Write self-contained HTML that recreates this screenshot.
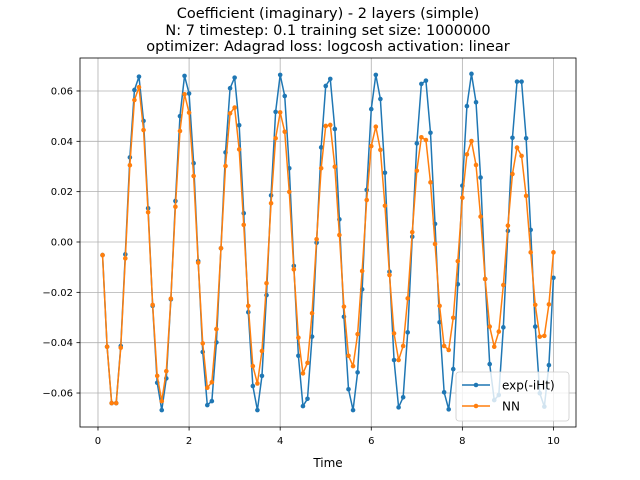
<!DOCTYPE html>
<html><head><meta charset="utf-8"><style>
body{margin:0;background:#fff;}
svg{display:block;font-family:"DejaVu Sans","Liberation Sans",sans-serif;}
</style></head><body>
<svg id="chart" width="640" height="480" viewBox="0 0 640 480" xmlns="http://www.w3.org/2000/svg">
<text x="328" y="18" text-anchor="middle" font-size="14.5">Coefficient (imaginary) - 2 layers (simple)</text>
<text x="328" y="35" text-anchor="middle" font-size="14.5">N: 7 timestep: 0.1 training set size: 1000000</text>
<text x="328" y="51" text-anchor="middle" font-size="14.5">optimizer: Adagrad loss: logcosh activation: linear</text>
<g id="grid"></g>
<g id="series"></g>
<rect x="80" y="58" width="496" height="369" fill="none" stroke="#000" stroke-width="0.8"/>
<g id="ticks"></g>
<text x="328" y="467" text-anchor="middle" font-size="12">Time</text>
<g>
<rect x="456" y="372" width="113" height="49" rx="3" fill="#fff" fill-opacity="0.8" stroke="#ccc" stroke-width="0.8"/>
<g>
<line x1="462" y1="385" x2="490" y2="385" stroke="#1f77b4" stroke-width="1.5"/><circle cx="476" cy="385" r="2.3" fill="#1f77b4"/>
<text x="502" y="389.5" font-size="12">exp(-iHt)</text></g>
<g>
<line x1="462" y1="406" x2="490" y2="406" stroke="#ff7f0e" stroke-width="1.5"/><circle cx="476" cy="406" r="2.3" fill="#ff7f0e"/>
<text x="502" y="410.5" font-size="12">NN</text></g>
</g>
</svg>
<script>
const times = [];
for (let i = 1; i <= 100; i++) times.push(i / 10);
const exactValues = [-0.0052,-0.0416,-0.064,-0.064,-0.0413,-0.0049,0.0336,0.0604,0.0657,0.0481,
0.0134,-0.0254,-0.0559,-0.0668,-0.0542,-0.0228,0.0163,0.050,0.066,0.059,
0.0313,-0.0076,-0.0437,-0.0648,-0.0632,-0.0399,-0.0025,0.0356,0.0611,0.0653,
0.0464,0.0114,-0.0279,-0.0572,-0.0668,-0.0532,-0.0211,0.0185,0.0517,0.0664,
0.058,0.0293,-0.0095,-0.0452,-0.0652,-0.0623,-0.0376,-0.0003,0.0376,0.062,
0.0648,0.0449,0.009,-0.0297,-0.0585,-0.0668,-0.0518,-0.0188,0.0207,0.0528,
0.0664,0.0568,0.0275,-0.0118,-0.0469,-0.0657,-0.0617,-0.0359,0.0021,0.0392,
0.0628,0.0641,0.0434,0.0072,-0.0319,-0.0597,-0.0665,-0.0505,-0.0168,0.0224,
0.054,0.0668,0.0555,0.0256,-0.0147,-0.0485,-0.0628,-0.0608,-0.0339,0.0044,
0.0414,0.0637,0.0637,0.0412,0.0048,-0.0336,-0.0601,-0.0654,-0.0489,-0.0142];
const nnValues = [-0.0052,-0.0416,-0.064,-0.064,-0.042,-0.0065,0.0305,0.0564,0.0615,0.0445,
0.0118,-0.025,-0.0532,-0.0632,-0.0513,-0.0225,0.014,0.0441,0.0587,0.0514,
0.0262,-0.0082,-0.0403,-0.0579,-0.0557,-0.0346,-0.0025,0.0302,0.0511,0.0534,
0.0368,0.0068,-0.0254,-0.0493,-0.0562,-0.0433,-0.0164,0.0154,0.0412,0.0515,
0.0438,0.0199,-0.0109,-0.038,-0.0522,-0.048,-0.0283,0.0011,0.0293,0.0461,
0.0465,0.0299,0.0028,-0.0257,-0.0452,-0.0493,-0.0366,-0.0115,0.0167,0.0381,
0.0458,0.0366,0.0144,-0.0131,-0.0363,-0.0469,-0.0413,-0.0224,0.0039,0.0283,
0.0416,0.0405,0.0237,-0.0008,-0.0254,-0.0413,-0.0429,-0.0301,-0.0076,0.0176,
0.0348,0.0401,0.0306,0.0101,-0.0147,-0.0336,-0.0416,-0.0356,-0.0171,0.0065,
0.027,0.0375,0.0342,0.0183,-0.0041,-0.025,-0.0376,-0.0373,-0.0248,-0.0041];
const xTicks = [0, 2, 4, 6, 8, 10];
const yTicks = [-0.06, -0.04, -0.02, 0.00, 0.02, 0.04, 0.06];

const NS = "http://www.w3.org/2000/svg";
const X0 = 80, X1 = 576, Y0 = 58, Y1 = 427;
const xMin = -0.395, xMax = 10.495, yMin = -0.0735, yMax = 0.0731;
const xs = v => X0 + (v - xMin) / (xMax - xMin) * (X1 - X0);
const ys = v => Y1 - (v - yMin) / (yMax - yMin) * (Y1 - Y0);
function mk(tag, attrs, parent) {
  const e = document.createElementNS(NS, tag);
  for (const k in attrs) e.setAttribute(k, attrs[k]);
  parent.appendChild(e);
  return e;
}
const grid = document.getElementById('grid');
const ticks = document.getElementById('ticks');
const fmtY = v => (v < 0 ? '\u2212' : '') + Math.abs(v).toFixed(2);
xTicks.forEach(t => {
  const x = xs(t);
  const g = mk('line', {x1: x, x2: x, y1: Y0, y2: Y1, stroke: '#b0b0b0', 'stroke-width': 0.8}, grid);
  
  
  const tk = mk('line', {x1: x, x2: x, y1: Y1, y2: Y1 + 3.5, stroke: '#000', 'stroke-width': 0.8}, ticks);
  
  
  const lb = mk('text', {x: x, y: Y1 + 17, 'text-anchor': 'middle', 'font-size': 10}, ticks);
  lb.textContent = String(t);
  
  
});
yTicks.forEach(t => {
  const y = ys(t);
  const g = mk('line', {x1: X0, x2: X1, y1: y, y2: y, stroke: '#b0b0b0', 'stroke-width': 0.8}, grid);
  
  
  const tk = mk('line', {x1: X0 - 3.5, x2: X0, y1: y, y2: y, stroke: '#000', 'stroke-width': 0.8}, ticks);
  
  
  const lb = mk('text', {x: X0 - 7, y: y + 3.5, 'text-anchor': 'end', 'font-size': 10}, ticks);
  lb.textContent = fmtY(t);
  
  
});
const series = document.getElementById('series');
function drawSeries(vals, color, name) {
  const pts = vals.map((v, i) => xs(times[i]).toFixed(2) + ',' + ys(v).toFixed(2)).join(' ');
  const pl = mk('polyline', {points: pts, fill: 'none', stroke: color, 'stroke-width': 1.5, 'stroke-linejoin': 'round'}, series);
  
  
  vals.forEach((v, i) => {
    const c = mk('circle', {cx: xs(times[i]), cy: ys(v), r: 2.3, fill: color}, series);
    
    
  });
}
drawSeries(exactValues, '#1f77b4', 'exact');
drawSeries(nnValues, '#ff7f0e', 'nn');
</script>
</body></html>
